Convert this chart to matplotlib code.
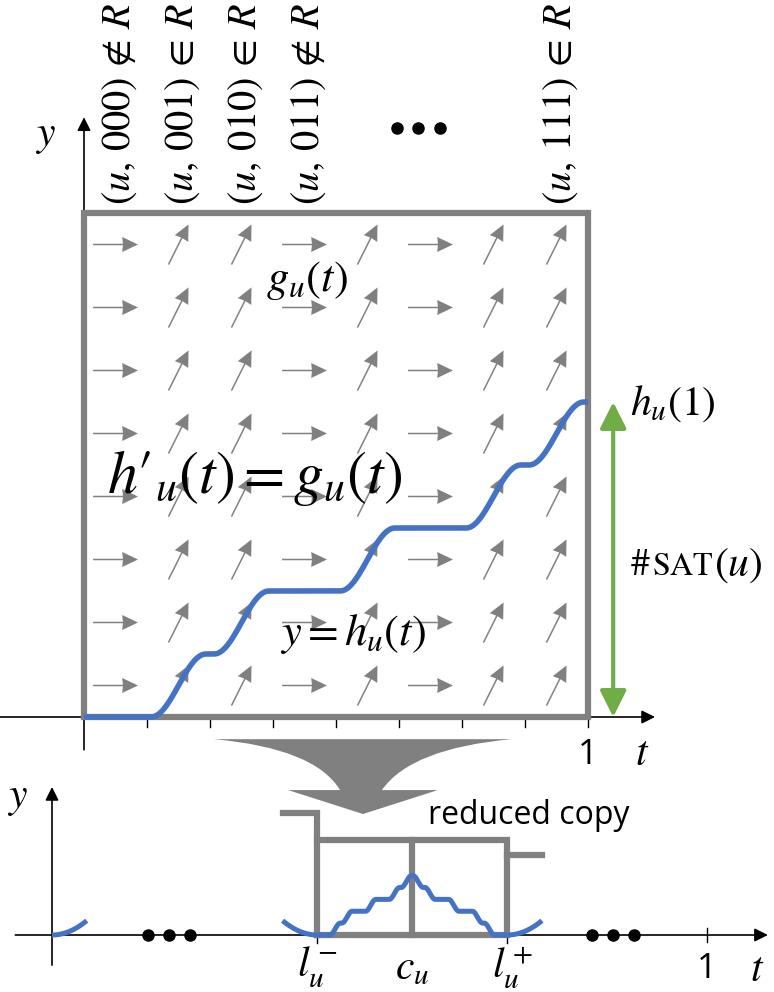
import numpy as np
import matplotlib.pyplot as plt
from matplotlib.path import Path
from matplotlib.patches import PathPatch, Rectangle

plt.rcParams['mathtext.fontset'] = 'stix'

# assignments of the 3 variables and whether (u, w) is in R
words = ['000', '001', '010', '011', '100', '101', '110', '111']
in_R = [False, True, True, False, True, False, True, True]
labelled = ['000', '001', '010', '011', '111']
n_rows = 8

# reduced copy placement on the lower t axis
l_minus, c_u, l_plus = 0.405, 0.55, 0.695
copy_scale = 0.145
left_stub, right_stub = 1.28, 0.84   # neighbour copy heights (box units)

GRAY = '#808080'
BLUE = '#4472C4'
GREEN = '#70AD47'
W, H = 774, 992


def h_u(t, margin=0.008):
    # integral of g_u: one smooth step of 1/8 inside every column in R
    n = len(in_R)
    y = np.zeros_like(t)
    for k, r in enumerate(in_R):
        if not r:
            continue
        a, b = k / n + margin, (k + 1) / n - margin
        s = np.clip((t - a) / (b - a), 0, 1)
        y += (1 - np.cos(np.pi * s)) / 2 / n
    return y


fig = plt.figure(figsize=(W / 100, H / 100), dpi=100)

# ---- top diagram: 1 unit = 504 px, origin at pixel (84, 717)
ax = fig.add_axes([0, 0, 1, 1])
ax.axis('off')
U, X0, Y0 = 504, 84, 717
ax.set_xlim(-X0 / U, (W - X0) / U)
ax.set_ylim((Y0 - H) / U, Y0 / U)

axis_arrow = dict(arrowstyle='-|>', color='black', lw=1.2, mutation_scale=20,
                  shrinkA=0, shrinkB=0)
ax.annotate('', xy=(1.133, 0), xytext=(-0.17, 0), arrowprops=axis_arrow)
ax.annotate('', xy=(0, 1.19), xytext=(0, -0.065), arrowprops=axis_arrow)
for k in range(1, len(words) + 1):
    ax.plot([k / 8, k / 8], [0, -0.02], color='black', lw=1)

ax.add_patch(Rectangle((0, 0), 1, 1, fill=False, ec=GRAY, lw=4.5, zorder=3))

# slope field g_u(t)
cols = (np.arange(len(words)) + 0.5) / len(words)
rows = (np.arange(n_rows) + 0.5) / n_rows
Xg, Yg = np.meshgrid(cols, rows)
L = 0.089
du = np.array([L / np.sqrt(5) if r else L for r in in_R])
dv = np.array([2 * L / np.sqrt(5) if r else 0 for r in in_R])
ax.quiver(Xg, Yg, np.tile(du, (n_rows, 1)), np.tile(dv, (n_rows, 1)),
          angles='xy', scale_units='xy', scale=1, pivot='middle', color=GRAY,
          units='dots', width=1.5, headwidth=10, headlength=10.5,
          headaxislength=10, zorder=2)

t = np.linspace(0, 1, 600)
ax.plot(t, h_u(t), color=BLUE, lw=4, solid_capstyle='butt', zorder=4)

h1 = h_u(np.array([1.0]))[0]
ax.annotate('', xy=(1.05, h1), xytext=(1.05, 0),
            arrowprops=dict(arrowstyle='<|-|>', color=GREEN, lw=3,
                            mutation_scale=40, shrinkA=0, shrinkB=0))

# column labels
for w in labelled:
    k = words.index(w)
    rel = r'\in' if in_R[k] else r'\notin'
    ax.text(cols[k] + 0.006, 1.016, rf'$(u,\,{w})\,{rel}\,R$', rotation=90,
            ha='center', va='bottom', fontsize=29)
ax.plot([0.621, 0.663, 0.706], [1.169] * 3, 'o', color='black', ms=8)

ax.text(-0.077, 1.155, r'$y$', ha='center', va='center', fontsize=30)
ax.text(1.0, -0.075, '1', ha='center', va='center', fontsize=25,
        family='Open Sans')
ax.text(1.107, -0.072, r'$t$', ha='center', va='center', fontsize=30)
ax.text(0.442, 0.867, r'$g_u(t)$', ha='center', va='center', fontsize=32)
ax.text(0.046, 0.474, '$h\u2032_u(t) = g_u(t)$', ha='left', va='center',
        fontsize=43)
ax.text(0.389, 0.165, r'$y = h_u(t)$', ha='left', va='center', fontsize=32)
ax.text(1.083, 0.599, r'$h_u(1)$', ha='left', va='baseline', fontsize=30)

yb = 0.281
sharp = ax.text(1.083, yb, r'$\#$', ha='left', va='baseline', fontsize=27)
sat = ax.annotate(r'$\mathrm{SAT}$', xy=(1, yb), xycoords=(sharp, 'data'),
                  xytext=(1, 0), textcoords='offset points', ha='left',
                  va='baseline', fontsize=23)
ax.annotate(r'$(u)$', xy=(1, yb), xycoords=(sat, 'data'), ha='left',
            va='baseline', fontsize=30)

# funnel arrow between the two diagrams
verts = [(0.258, -0.044), (0.458, -0.062), (0.508, -0.145), (0.405, -0.145),
         (0.5536, -0.1925), (0.702, -0.145), (0.591, -0.145),
         (0.649, -0.062), (0.849, -0.044), (0.258, -0.044)]
codes = [Path.MOVETO, Path.CURVE3, Path.CURVE3, Path.LINETO, Path.LINETO,
         Path.LINETO, Path.LINETO, Path.CURVE3, Path.CURVE3, Path.CLOSEPOLY]
ax.add_patch(PathPatch(Path(verts, codes), fc=GRAY, ec='none'))

# ---- bottom diagram: 1 unit = 655 px, origin at pixel (52, 935)
ax2 = fig.add_axes([0, 0, 1, 1])
ax2.axis('off')
U2, X2, Y2 = 655, 52, 935
ax2.set_xlim(-X2 / U2, (W - X2) / U2)
ax2.set_ylim((Y2 - H) / U2, Y2 / U2)

ax2.annotate('', xy=(1.093, 0), xytext=(-0.056, 0), arrowprops=axis_arrow)
ax2.annotate('', xy=(0, 0.226), xytext=(0, -0.046), arrowprops=axis_arrow)
ax2.plot([1, 1], [-0.011, 0.011], color='black', lw=1)
for x in (l_minus, l_plus):
    ax2.plot([x, x], [0, -0.012], color='black', lw=1)

s = copy_scale
stub = 0.053
gray_kw = dict(color=GRAY, lw=4.5, solid_joinstyle='miter', zorder=3)
ax2.plot([l_minus - stub, l_minus, l_minus], [left_stub * s, left_stub * s, 0],
         **gray_kw)
ax2.plot([l_minus, l_plus, l_plus, l_minus], [s, s, 0, 0], **gray_kw)
ax2.plot([c_u, c_u], [0, s], **gray_kw)
ax2.plot([l_plus, l_plus + stub], [right_stub * s] * 2, **gray_kw)

blue_kw = dict(color=BLUE, lw=3.6, solid_capstyle='butt', zorder=4)
tc = np.linspace(0, 1, 300)
ax2.plot(l_minus + s * tc, s * h_u(tc), **blue_kw)
ax2.plot(l_plus - s * tc, s * h_u(tc), **blue_kw)
da = np.linspace(0, stub, 50)
arc = 7.8 * da ** 2
ax2.plot(da, arc, **blue_kw)
ax2.plot(l_minus - da, arc, **blue_kw)
ax2.plot(l_plus + da, arc, **blue_kw)

ax2.plot([0.1466, 0.1786, 0.2107], [0] * 3, 'o', color='black', ms=8, zorder=5)
ax2.plot([0.8244, 0.8565, 0.8885], [0] * 3, 'o', color='black', ms=8, zorder=5)

ax2.text(-0.053, 0.211, r'$y$', ha='center', va='center', fontsize=30)
ax2.text(l_minus, -0.05, r'$l_u^-$', ha='center', va='center', fontsize=30)
ax2.text(c_u, -0.05, r'$c_u$', ha='center', va='center', fontsize=30)
ax2.text(l_plus + 0.008, -0.05, r'$l_u^+$', ha='center', va='center',
         fontsize=30)
ax2.text(1.0, -0.052, '1', ha='center', va='center', fontsize=25,
         family='Open Sans')
ax2.text(1.077, -0.052, r'$t$', ha='center', va='center', fontsize=30)
ax2.text(0.574, 0.183, 'reduced copy', ha='left', va='center', fontsize=23,
         family='Open Sans')

fig.savefig('out.png', dpi=100)
